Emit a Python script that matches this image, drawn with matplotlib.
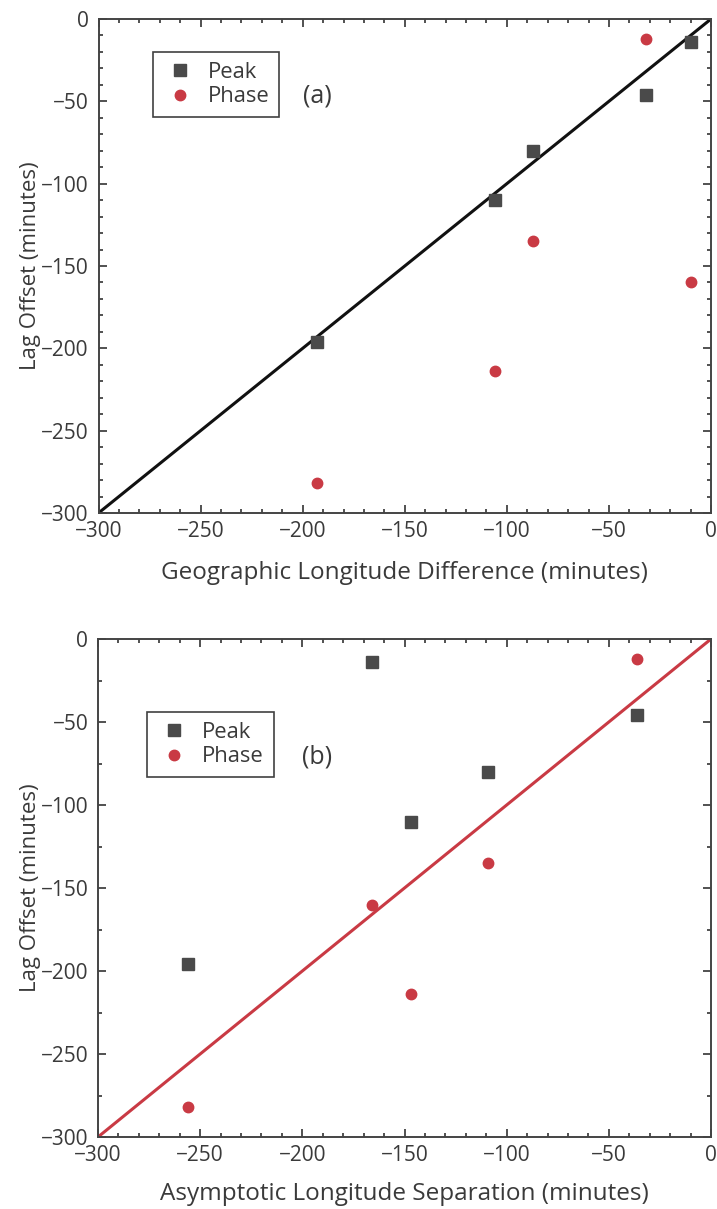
import matplotlib
matplotlib.use("Agg")
import matplotlib.pyplot as plt
from matplotlib.ticker import MultipleLocator

# station values (minutes)
geo_lon_diff = [-193, -106, -87, -32, -10]
asym_lon_sep = [-256, -147, -109, -36, -166]
peak_lag = [-196, -110, -80, -46, -14]
phase_lag = [-282, -214, -135, -12, -160]
fit_line = [-300, 0]

plt.rcParams['font.family'] = ['Open Sans', 'DejaVu Sans']
text_col = '#3a3a3a'
peak_col = '#4a4a4a'
phase_col = '#c93a44'

fig = plt.figure(figsize=(7.17, 12.09), dpi=100)
ax_a = fig.add_axes([98.5/717, 1-513/1209, 612.5/717, 494/1209])
ax_b = fig.add_axes([98/717, 1-1137/1209, 613/717, 498/1209])


def style_axes(ax, y_minor):
    ax.set_xlim(-300, 0)
    ax.set_ylim(-300, 0)
    ax.xaxis.set_major_locator(MultipleLocator(50))
    ax.xaxis.set_minor_locator(MultipleLocator(10))
    ax.yaxis.set_major_locator(MultipleLocator(50))
    ax.yaxis.set_minor_locator(MultipleLocator(y_minor))
    ax.tick_params(which='both', direction='in', top=True, right=True,
                   color='#222222', width=1.1, labelsize=15, labelcolor=text_col)
    ax.tick_params(axis='x', which='both', pad=5.5)
    ax.tick_params(axis='y', which='both', pad=7)
    ax.tick_params(which='major', length=6)
    ax.tick_params(which='minor', length=3)
    for s in ax.spines.values():
        s.set_color('#444444')
        s.set_linewidth(1.4)
    ax.set_ylabel('Lag Offset (minutes)', fontsize=16, color=text_col, labelpad=0)


def add_points(ax, xs, line_col, tag, leg_pos, tag_pos):
    ax.plot(fit_line, fit_line, color=line_col, lw=2.2, zorder=2)
    ax.plot(xs, peak_lag, ls='none', marker='s', ms=8, color=peak_col, label='Peak', zorder=3)
    ax.plot(xs, phase_lag, ls='none', marker='o', ms=7.5, color=phase_col, label='Phase', zorder=3)
    leg = ax.legend(loc='upper left', bbox_to_anchor=leg_pos, borderaxespad=0,
                    fontsize=15.8, frameon=True, fancybox=False, handlelength=1.6,
                    handletextpad=0.45, borderpad=0.45, labelspacing=0.15)
    leg.get_frame().set_edgecolor('#111111')
    leg.get_frame().set_linewidth(1.2)
    for t in leg.get_texts():
        t.set_color(text_col)
    ax.text(tag_pos[0], tag_pos[1], tag, fontsize=18, color=text_col, ha='center', va='center')


style_axes(ax_a, 10)
add_points(ax_a, geo_lon_diff, '#111111', '(a)', (0.089, 0.933), (-193, -47))
ax_a.set_xlabel('Geographic Longitude Difference (minutes)', fontsize=17.5, color=text_col, labelpad=14)

style_axes(ax_b, 25)
add_points(ax_b, asym_lon_sep, '#c93a44', '(b)', (0.080, 0.853), (-193, -71))
ax_b.set_xlabel('Asymptotic Longitude Separation (minutes)', fontsize=17.5, color=text_col, labelpad=12)

fig.savefig('out.png', dpi=100)
